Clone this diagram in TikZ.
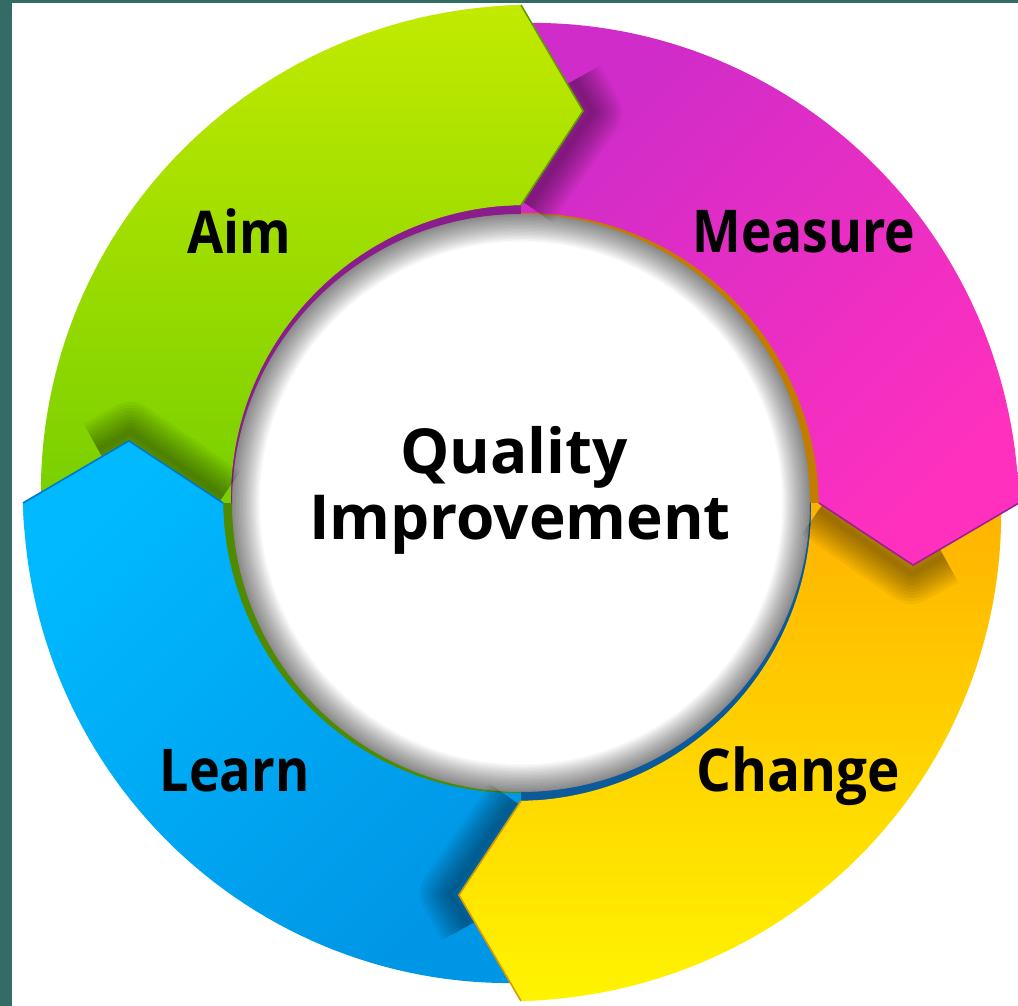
\documentclass[tikz,border=0pt]{standalone}
\usepackage{fontspec}
\setmainfont{Open Sans}
\usetikzlibrary{calc}
\definecolor{teal1}{HTML}{336B65}
\definecolor{gTop}{HTML}{C2EA00}\definecolor{gBot}{HTML}{78CF00}\definecolor{gDark}{HTML}{4F8A00}\definecolor{gEdge}{HTML}{5E9C00}
\definecolor{mTop}{HTML}{CF2CC9}\definecolor{mBot}{HTML}{FF30BE}\definecolor{mDark}{HTML}{8A1C8C}\definecolor{mEdge}{HTML}{9E1E96}
\definecolor{yTop}{HTML}{FFB200}\definecolor{yBot}{HTML}{FFF400}\definecolor{yDark}{HTML}{C27C00}\definecolor{yEdge}{HTML}{D89A00}
\definecolor{bTop}{HTML}{00B9FF}\definecolor{bBot}{HTML}{0096E6}\definecolor{bDark}{HTML}{0D5A9A}\definecolor{bEdge}{HTML}{0077C8}
\newcommand\segpath[1]{plot[domain=#1:#1-90,samples=61,variable=\q] (\q:{480+0.2*(#1-\q)}) -- (#1-99:397) -- plot[domain=#1-90:#1,samples=61,variable=\q] (\q:{290+(8/90)*(#1-\q)}) -- (#1:297) -- (#1-7.5:395) -- cycle}
\def\seglist{180/gTop/gBot/0/gEdge/mDark, 90/mTop/mBot/45/mEdge/yDark, 0/yTop/yBot/0/yEdge/bDark, -90/bTop/bBot/45/bEdge/gDark}
\tikzset{
  lbl/.style={font=\bfseries\fontsize{59}{66}\selectfont, inner sep=0pt, anchor=base, text=black},
  ctr/.style={font=\bfseries\fontsize{62}{66}\selectfont, inner sep=0pt, anchor=base, text=black},
  shadowline/.style={black, opacity=0.045, line join=round, line cap=butt}
}
\begin{document}
\begin{tikzpicture}[x=1pt,y=1pt]
\useasboundingbox (0,0) rectangle (1018,1006);
\fill[white] (0,0) rectangle (1018,1006);
\fill[teal1] (0,0) rectangle (12,1006);
\fill[teal1] (0,1003) rectangle (1018,1006);
\begin{scope}[shift={(521,503)}]
  % central disc with inner shadow
  \fill[white] (0,0) circle[radius=300];
  \foreach \i in {1,...,22} {
    \fill[black, opacity=0.027, even odd rule] (0,0) circle[radius=292] (0,0) circle[radius={292-1.4*\i}];
  }
  % underbands (next segment tucked below)
  \foreach \T/\ct/\cb/\ang/\ec/\bd in \seglist {
    \fill[\bd] (\T:300) arc[start angle=\T, end angle=\T-90, radius=300] -- (\T-90:289) arc[start angle=\T-90, end angle=\T, radius=289] -- cycle;
  }
  % bodies
  \foreach \T/\ct/\cb/\ang/\ec/\bd in \seglist {
    \shade[top color=\ct, bottom color=\cb, shading angle=\ang] \segpath{\T};
  }
  % head shadows
  \foreach \T/\ct/\cb/\ang/\ec/\bd in \seglist {
    \begin{scope}
      \clip (0,0) -- (\T-90:505) arc[start angle=\T-90, end angle=\T-185, radius=505] -- cycle;
      \begin{scope}[rotate=-1.3]
        \foreach \w in {6,12,...,60} {
          \draw[shadowline, line width=\w pt]
            ($(\T-90:498)!0.7!(\T-99:397)$) -- (\T-99:397) -- (\T-90:298);
        }
      \end{scope}
    \end{scope}
  }
  % heads redrawn on top
  \foreach \T/\ct/\cb/\ang/\ec/\bd in \seglist {
    \coordinate (oc) at (\T-90:498);
    \coordinate (ic) at (\T-90:298);
    \coordinate (tp) at (\T-99:397);
    \begin{scope}
      \clip (\T-87:545) -- ($(tp)!1.3!(oc)$) -- (tp) -- ($(tp)!1.3!(ic)$) -- (\T-87:250) -- cycle;
      \shade[top color=\ct, bottom color=\cb, shading angle=\ang] \segpath{\T};
    \end{scope}
    \draw[\ec, line width=1.6pt, line join=miter] (oc) -- (tp) -- (ic);
  }
\end{scope}
\node[lbl] (aim) at (239,752) {\scalebox{0.89}[1]{Aim}};
\node[lbl] (measure) at (804,753) {\scalebox{0.875}[1]{Measure}};
\node[lbl] (learn) at (234.5,214) {\scalebox{0.885}[1]{Learn}};
\node[lbl] (change) at (798,214) {\scalebox{0.93}[1]{Change}};
\node[ctr] (quality) at (514,532) {Quality};
\node[ctr] (improvement) at (520,466) {Improvement};
\end{tikzpicture}
\end{document}
